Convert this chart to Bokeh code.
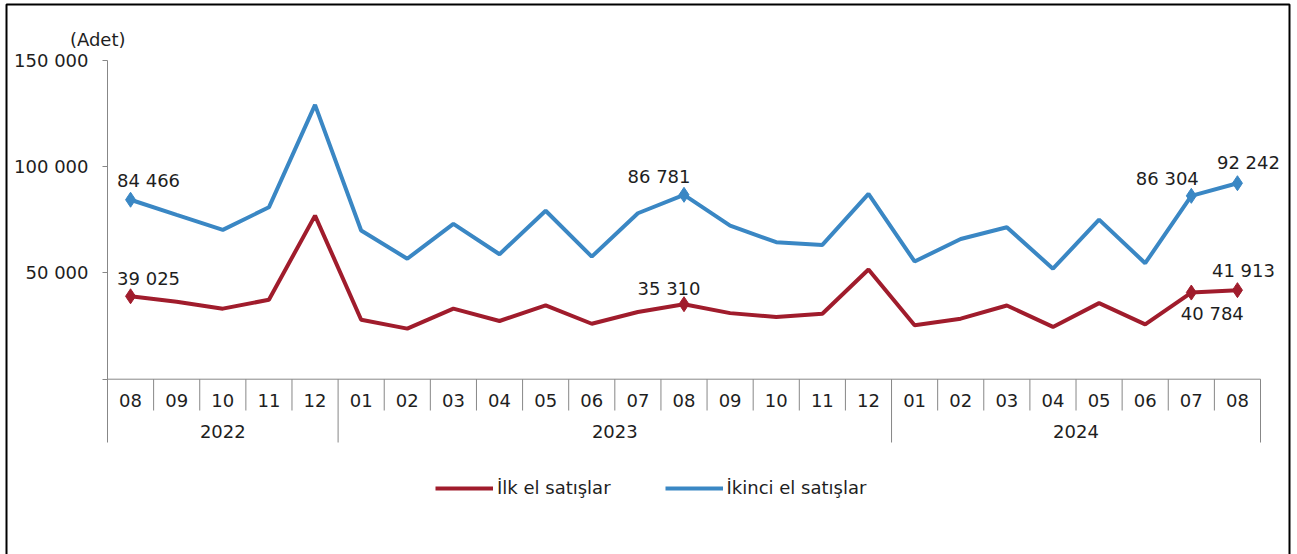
from bokeh.plotting import figure
from bokeh.models import (Range1d, LinearAxis, FixedTicker, Label, BoxAnnotation,
                          Legend, LegendItem, ColumnDataSource)
from bokeh.core.properties import value
from bokeh.embed import file_html
from bokeh.resources import INLINE

# ---------------- data ----------------
years = ["2022"] * 5 + ["2023"] * 12 + ["2024"] * 8
months = ["08", "09", "10", "11", "12",
          "01", "02", "03", "04", "05", "06", "07", "08", "09", "10", "11", "12",
          "01", "02", "03", "04", "05", "06", "07", "08"]
ilk_el = [39025, 36500, 33200, 37400, 77000,
          28000, 23800, 33200, 27400, 34700, 26100, 31600, 35310, 31100, 29300, 30800, 51600,
          25400, 28500, 34700, 24600, 35800, 25800, 40784, 41913]
ikinci_el = [84466, 77300, 70300, 80900, 129100,
             70000, 56700, 73100, 58800, 79300, 57700, 78100, 86781, 72300, 64500, 63200, 87200,
             55400, 66000, 71500, 52000, 75100, 54600, 86304, 92242]
labeled_idx = [0, 12, 23, 24]
y_ticks = [0, 50000, 100000, 150000]
y_tick_labels = ["", "50 000", "100 000", "150 000"]
unit_label = "(Adet)"
series_names = ["İlk el satışlar", "İkinci el satışlar"]

# ---------------- styles / layout ----------------
FONT = "DejaVu Sans"
FS = "18px"
TXT = "#1e1e1e"
AX = "#878787"
RED = "#A01C2C"
BLUE = "#3A87C4"

W, H = 1297, 554
BOX_L, BOX_T, BOX_R = 6, 4, 1289          # outer frame box (page px), bottom runs off-page
CAT_LEFT_PAGE, CAT_RIGHT_PAGE = 107, 1260
ZERO_PAGE = 378.7
PX_PER_UNIT = 318.7 / 150000.0

n = len(months)
cat_w = (CAT_RIGHT_PAGE - CAT_LEFT_PAGE) / n
x_start = -CAT_LEFT_PAGE / cat_w
x_end = x_start + W / cat_w


def page_to_val(py):
    return (ZERO_PAGE - py) / PX_PER_UNIT


y_top = page_to_val(0)
y_bot = page_to_val(H)

xpos = [i + 0.5 for i in range(n)]  # category centres on the x scale

p = figure(width=W, height=H, output_backend="svg", toolbar_location=None,
           x_range=Range1d(x_start, x_end), y_range=Range1d(y_bot, y_top),
           x_axis_location=None, y_axis_location=None,
           min_border_left=0, min_border_right=0, min_border_top=0, min_border_bottom=0)
p.grid.visible = False
p.background_fill_color = "white"
p.border_fill_color = "white"
p.outline_line_color = None

# outer box (its bottom edge lies below the visible page, as in the source)
p.add_layout(BoxAnnotation(left=BOX_L, right=BOX_R, top=H - BOX_T, bottom=-12,
                           left_units="screen", right_units="screen",
                           top_units="screen", bottom_units="screen",
                           fill_alpha=0, line_color="black", line_width=2, line_alpha=1))

# y axis drawn at the left edge of the category area
yaxis = LinearAxis(fixed_location=0, bounds=(y_ticks[0], y_ticks[-1]),
                   ticker=FixedTicker(ticks=y_ticks),
                   major_label_overrides={float(t): l for t, l in zip(y_ticks, y_tick_labels)})
yaxis.axis_line_color = AX
yaxis.axis_line_width = 1
yaxis.major_tick_line_color = AX
yaxis.major_tick_out = 5
yaxis.major_tick_in = 0
yaxis.minor_tick_line_color = None
yaxis.major_label_standoff = 14
yaxis.major_label_text_font = FONT
yaxis.major_label_text_font_size = FS
yaxis.major_label_text_color = TXT
p.add_layout(yaxis, "left")

# category axis line at zero
p.segment(x0=[0], x1=[n], y0=[0], y1=[0], line_color=AX, line_width=1)

# separators
short_bot = page_to_val(410)
long_bot = page_to_val(442)
sx, sy1 = [], []
for i in range(n + 1):
    is_year_edge = (i == 0) or (i == n) or (years[i] != years[i - 1])
    sx.append(i)
    sy1.append(long_bot if is_year_edge else short_bot)
p.segment(x0=sx, x1=sx, y0=[0] * len(sx), y1=sy1, line_color=AX, line_width=1)

# month labels
p.text(x=xpos, y=[page_to_val(400)] * n, text=months,
       text_font=value(FONT), text_font_size=FS, text_color=TXT,
       text_align="center", text_baseline="middle")

# year labels
yr_x, yr_t = [], []
for yv in dict.fromkeys(years):
    idx = [i for i, y in enumerate(years) if y == yv]
    yr_x.append(sum(xpos[i] for i in idx) / len(idx))
    yr_t.append(yv)
p.text(x=yr_x, y=[page_to_val(431)] * len(yr_x), text=yr_t,
       text_font=value(FONT), text_font_size=FS, text_color=TXT,
       text_align="center", text_baseline="middle")

# series
src = ColumnDataSource(dict(x=xpos, ilk=ilk_el, ikinci=ikinci_el))
r_ilk = p.line("x", "ilk", source=src, line_color=RED, line_width=4)
r_iki = p.line("x", "ikinci", source=src, line_color=BLUE, line_width=4)

offsets = {
    "ilk": {0: (18, -18), 12: (-15, -16), 23: (21, 21), 24: (6, -20)},
    "ikinci": {0: (18, -19), 12: (-25, -18), 23: (-24, -17), 24: (11, -21)},
}
for key, vals, col in (("ilk", ilk_el, RED), ("ikinci", ikinci_el, BLUE)):
    mx = [xpos[i] for i in labeled_idx]
    my = [vals[i] for i in labeled_idx]
    p.scatter(mx, my, marker="diamond", size=15, fill_color=col, line_color=col)
    lab = ColumnDataSource(dict(
        x=mx, y=my,
        t=[f"{v:,}".replace(",", " ") for v in my],
        xo=[offsets[key][i][0] for i in labeled_idx],
        yo=[offsets[key][i][1] for i in labeled_idx]))
    p.text("x", "y", text="t", source=lab, x_offset="xo", y_offset="yo",
           text_font=value(FONT), text_font_size=FS, text_color=TXT,
           text_align="center", text_baseline="middle")

# unit label
p.add_layout(Label(x=125, x_units="screen", y=page_to_val(39), y_units="data",
                   text=unit_label, text_align="right", text_baseline="middle",
                   text_font=FONT, text_font_size=FS, text_color=TXT))

# legend
legend = Legend(items=[LegendItem(label=series_names[0], renderers=[r_ilk]),
                       LegendItem(label=series_names[1], renderers=[r_iki])],
                orientation="horizontal", location=(435, H - 498),
                glyph_width=58, glyph_height=20, label_standoff=4, spacing=54,
                padding=0, margin=0, border_line_color=None, background_fill_alpha=0,
                label_text_font=FONT, label_text_font_size=FS, label_text_color=TXT)
p.add_layout(legend)

open("out.html", "w").write(file_html(p, INLINE))
